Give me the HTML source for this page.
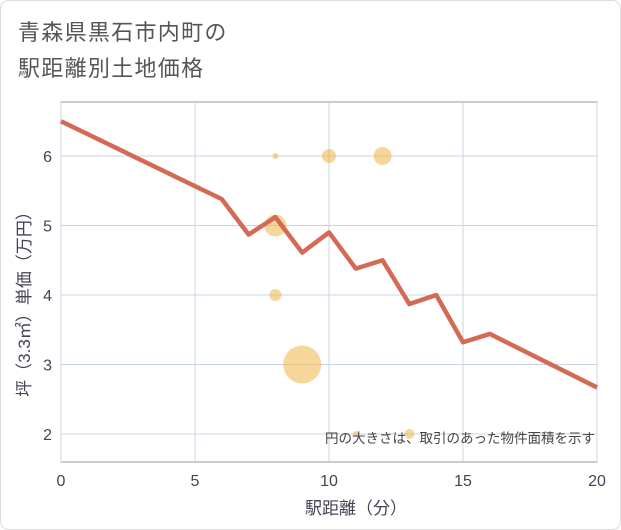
<!DOCTYPE html>
<html><head><meta charset="utf-8"><style>
body{margin:0;background:#fff;}
svg{display:block;font-family:"Liberation Sans","Noto Sans CJK JP",sans-serif;}
</style></head><body>
<svg width="621" height="530">
<rect x="0.5" y="0.5" width="620" height="529" rx="8" fill="#fff" stroke="#ddd"/>
<text x="18" y="40" font-size="22" letter-spacing="1.3" fill="#555">青森県黒石市内町の</text>
<text x="18" y="76" font-size="22" letter-spacing="1.3" fill="#555">駅距離別土地価格</text>
<g id="plot"></g>
<text x="356" y="514" font-size="17" fill="#445" text-anchor="middle">駅距離（分）</text>
<text transform="translate(30,300) rotate(-90)" font-size="17" fill="#445" text-anchor="middle">坪（3.3㎡）単価（万円）</text>
<text x="595" y="443" font-size="13.5" fill="#444" text-anchor="end">円の大きさは、取引のあった物件面積を示す</text>
</svg>
<script>
const xTicks=[0,5,10,15,20];
const yTicks=[2,3,4,5,6];
const lineX=[0,6,7,8,9,10,11,12,13,14,15,16,20];
const lineY=[6.5,5.38,4.87,5.12,4.61,4.9,4.38,4.5,3.87,4.0,3.32,3.44,2.67];
const bubX=[8,10,12,8,8,9,11,13];
const bubY=[6,6,6,5,4,3,2,2];
const bubR=[3,7,9,11,6,19,3,5];
const L=61,R=597,T=102,B=462;
const sx=v=>L+(v-0)*(R-L)/20;
const sy=v=>156-(v-6)*69.5;
const ns="http://www.w3.org/2000/svg";
const g=document.getElementById('plot');
function mk(t,a){const e=document.createElementNS(ns,t);for(const k in a)e.setAttribute(k,a[k]);g.appendChild(e);return e;}
const bg=mk('rect',{x:L,y:T,width:R-L,height:B-T,fill:'#fff',stroke:'#999'});


xTicks.forEach(v=>{
 const l=mk('line',{x1:sx(v),x2:sx(v),y1:T,y2:B,stroke:'#c8d4e0'});
 
 
 const t=mk('text',{x:sx(v),y:486,'font-size':16,fill:'#445','text-anchor':'middle'});t.textContent=v;
 
 
});
yTicks.forEach(v=>{
 const l=mk('line',{x1:L,x2:R,y1:sy(v),y2:sy(v),stroke:'#c8d4e0'});
 
 
 const t=mk('text',{x:52,y:sy(v)+6,'font-size':16,fill:'#445','text-anchor':'end'});t.textContent=v;
 
 
});
bubX.forEach((x,i)=>{
 const c=mk('circle',{cx:sx(x),cy:sy(bubY[i]),r:bubR[i],fill:'#f0b445','fill-opacity':0.55});
 
 
});
const p=mk('polyline',{points:lineX.map((x,i)=>sx(x)+','+sy(lineY[i])).join(' '),fill:'none',stroke:'#d46a56','stroke-width':4.5,'stroke-linejoin':'round'});


</script>
</body></html>
